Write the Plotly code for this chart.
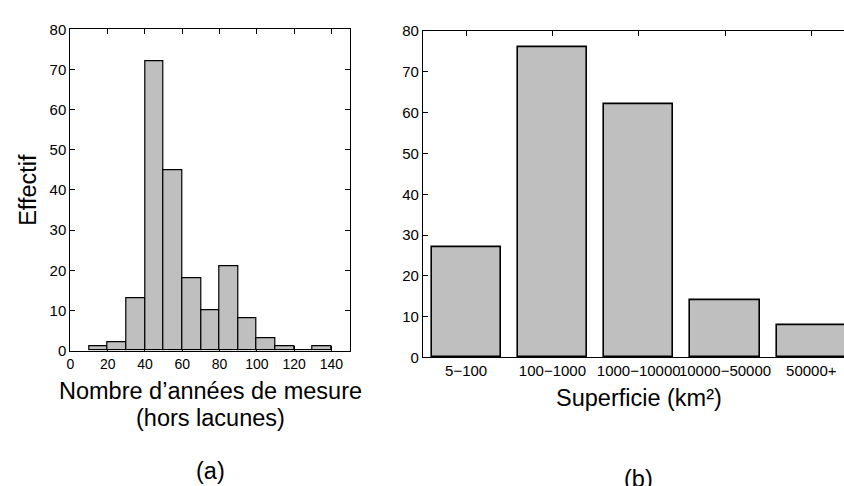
import plotly.graph_objects as go

# Left histogram: years of measurement
bin_centers = [15, 25, 35, 45, 55, 65, 75, 85, 95, 105, 115, 125, 135]
counts = [1, 2, 13, 72, 45, 18, 10, 21, 8, 3, 1, 0, 1]
left_xticks = [0, 20, 40, 60, 80, 100, 120, 140]

# Right bar chart: catchment area
area_labels = ["5\u2212100", "100\u22121000", "1000\u221210000", "10000\u221250000", "50000+"]
area_counts = [27, 76, 62, 14, 8]
area_pos = [1, 2, 3, 4, 5]

yticks = [0, 10, 20, 30, 40, 50, 60, 70, 80]

W, H = 844, 486
FONT = "Liberation Sans, Arial, sans-serif"
GREY = "#bfbfbf"

def px(x):
    return x / W

def py(y):
    return (H - y) / H

fig = go.Figure()
fig.add_trace(go.Bar(x=bin_centers, y=counts, width=[10] * len(counts),
                     marker=dict(color=GREY, line=dict(color="black", width=1.2)),
                     xaxis="x", yaxis="y", showlegend=False, hoverinfo="skip"))
fig.add_trace(go.Bar(x=area_pos, y=area_counts, width=[0.8] * len(area_counts),
                     marker=dict(color=GREY, line=dict(color="black", width=1.6)),
                     xaxis="x2", yaxis="y2", showlegend=False, hoverinfo="skip"))

def axis_common(size):
    return dict(showline=True, linecolor="black", linewidth=1.2, ticks="inside",
                ticklen=5, tickcolor="black", tickwidth=1, showgrid=False,
                zeroline=False, layer="below traces", tickangle=0,
                tickfont=dict(family=FONT, size=size, color="black"))

fig.update_layout(
    width=W, height=H,
    margin=dict(l=0, r=0, t=0, b=0),
    paper_bgcolor="white", plot_bgcolor="white",
    bargap=0,
    xaxis=dict(domain=[px(66.7), px(347.7)], range=[0, 150], tickvals=left_xticks,
               mirror="ticks", anchor="y", **axis_common(14)),
    yaxis=dict(domain=[py(354), py(21)], range=[0, 80], tickvals=yticks,
               mirror="ticks", anchor="x", **axis_common(15)),
    xaxis2=dict(domain=[px(421), 1.0], range=[0.5, 5.379], tickvals=area_pos,
                ticktext=area_labels, mirror="ticks", anchor="y2", **axis_common(15)),
    yaxis2=dict(domain=[py(361), py(23)], range=[0, 80], tickvals=yticks,
                mirror=False, anchor="x2", **axis_common(15)),
)

title_font = dict(family=FONT, size=23.5, color="black")
ann = [
    dict(text="Effectif", x=px(24), y=py(187.5), textangle=-90),
    dict(text="Nombre d\u2019années de mesure", x=px(207), y=py(396)),
    dict(text="(hors lacunes)", x=px(207), y=py(424)),
    dict(text="(a)", x=px(207), y=py(479)),
    dict(text="Superficie (km²)", x=px(638), y=py(403)),
    dict(text="(b)", x=px(638), y=py(487)),
]
for a in ann:
    fig.add_annotation(xref="paper", yref="paper", xanchor="center", yanchor="middle",
                       showarrow=False, font=title_font, **a)

fig.write_html("out.html", config={"displayModeBar": False},
               post_script="document.body.style.margin='0';document.body.style.overflow='hidden';")
